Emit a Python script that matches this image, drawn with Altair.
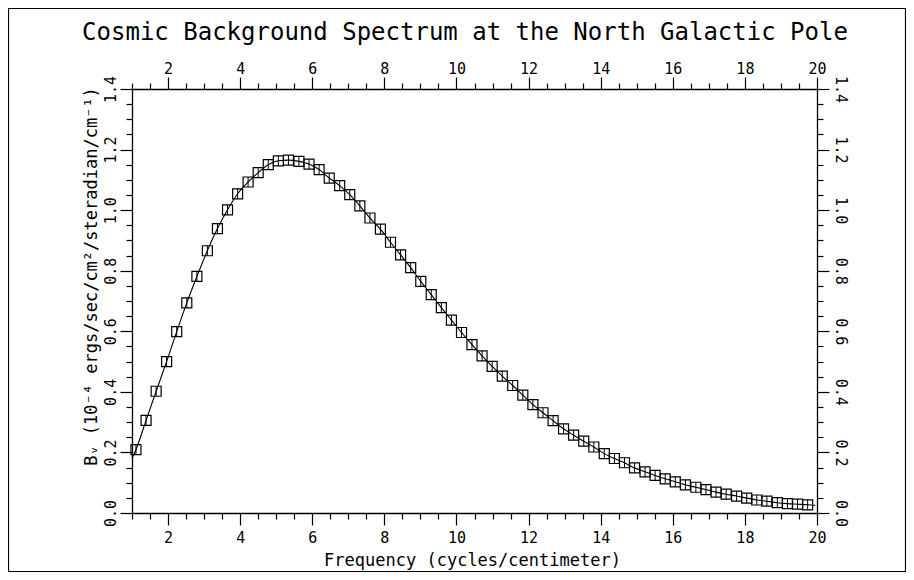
import altair as alt
import pandas as pd

# Frequency (cycles/cm) of each measured point
freq = [1.11, 1.39, 1.67, 1.96, 2.24, 2.52, 2.80, 3.09, 3.37, 3.65, 3.93, 4.22, 4.50,
        4.78, 5.06, 5.34, 5.63, 5.91, 6.19, 6.47, 6.76, 7.04, 7.32, 7.60, 7.89, 8.17,
        8.45, 8.73, 9.01, 9.30, 9.58, 9.86, 10.14, 10.43, 10.71, 10.99, 11.27, 11.56,
        11.84, 12.12, 12.40, 12.68, 12.97, 13.25, 13.53, 13.81, 14.10, 14.38, 14.66,
        14.94, 15.23, 15.51, 15.79, 16.07, 16.35, 16.64, 16.92, 17.20, 17.48, 17.77,
        18.05, 18.33, 18.61, 18.90, 19.18, 19.46, 19.74]
# Brightness (1e-4 ergs/sec/cm^2/steradian/cm^-1)
bright = [0.209, 0.306, 0.402, 0.500, 0.599, 0.694, 0.781, 0.866, 0.939, 1.001, 1.054,
          1.093, 1.124, 1.150, 1.163, 1.165, 1.161, 1.152, 1.134, 1.106, 1.081, 1.051,
          1.014, 0.974, 0.937, 0.894, 0.852, 0.810, 0.765, 0.721, 0.678, 0.637, 0.596,
          0.556, 0.519, 0.484, 0.452, 0.421, 0.389, 0.358, 0.331, 0.305, 0.278, 0.257,
          0.237, 0.218, 0.196, 0.180, 0.166, 0.149, 0.136, 0.124, 0.113, 0.103, 0.093,
          0.085, 0.077, 0.069, 0.062, 0.056, 0.049, 0.043, 0.039, 0.034, 0.031, 0.029,
          0.027]
# Fitted curve end points
curve_start = (1.0, 0.18)
curve_end = (19.95, 0.025)

title_text = ["Cosmic Background Spectrum at the North Galactic Pole"]
x_title = "Frequency (cycles/centimeter)"
y_title = "B\u1d65 (10\u207b\u2074 ergs/sec/cm\u00b2/steradian/cm\u207b\u00b9)"

x_ticks = [1 + 0.5 * i for i in range(39)]
y_ticks = [round(0.05 * i, 2) for i in range(29)]

pts = pd.DataFrame({"f": freq, "b": bright})
crv = pd.DataFrame({"f": [curve_start[0]] + freq + [curve_end[0]],
                    "b": [curve_start[1]] + bright + [curve_end[1]]})
frame_df = pd.DataFrame({"k": [0]})
title_df = pd.DataFrame({"t": title_text})

FONT = "DejaVu Sans Mono"
xscale = alt.Scale(domain=[1, 20], nice=False, zero=False)
yscale = alt.Scale(domain=[0, 1.4], nice=False, zero=True)

x_major = "abs(datum.value/2 - round(datum.value/2)) < 0.001"
y_major = "abs(datum.value*5 - round(datum.value*5)) < 0.001"

common = dict(labelFont=FONT, labelFontSize=15, labelColor="black", tickColor="black",
              tickWidth=1.2, domainColor="black", domainWidth=1.3, grid=False,
              titleFont=FONT, titleColor="black", titleFontWeight="normal",
              labelOverlap=False, labelFlush=False, labelBound=False)


def xaxis(orient, title, pad):
    kw = dict(common)
    if title:
        kw.update(title=title, titleFontSize=17, titleX=340, titleY=47,
                  titleBaseline="middle", titleAlign="center")
    else:
        kw.update(title=None)
    return alt.Axis(orient=orient, values=x_ticks,
                    labelExpr=f"{x_major} ? format(datum.value, 'd') : ''",
                    tickSize=alt.ExprRef(expr=f"{x_major} ? 12 : 6"),
                    labelPadding=pad, labelAngle=0, **kw)


def yaxis(orient, title, angle, pad):
    kw = dict(common)
    if title:
        kw.update(title=title, titleFontSize=17, titleX=-41, titleY=187,
                  titleAngle=270, titleBaseline="middle", titleAlign="center")
    else:
        kw.update(title=None)
    return alt.Axis(orient=orient, values=y_ticks,
                    labelExpr=f"{y_major} ? format(datum.value, '.1f') : ''",
                    tickSize=alt.ExprRef(expr=f"{y_major} ? 12 : 6"),
                    labelAngle=angle, labelAlign="center", labelBaseline="bottom",
                    labelPadding=pad, **kw)


line = alt.Chart(crv).mark_line(color="black", strokeWidth=1.1, interpolate="monotone").encode(
    x=alt.X("f:Q", scale=xscale, axis=xaxis("bottom", x_title, 5)),
    y=alt.Y("b:Q", scale=yscale, axis=yaxis("left", y_title, 270, 2)),
    order="f:Q",
)

squares = alt.Chart(pts).mark_point(shape="square", size=100, filled=False, color="black",
                                    strokeWidth=1.2, opacity=1).encode(
    x=alt.X("f:Q", scale=xscale, axis=xaxis("top", None, 1)),
    y=alt.Y("b:Q", scale=yscale, axis=yaxis("right", None, 90, 3)),
)

bars = alt.Chart(pts).mark_point(shape="M0,-1L0,1", size=100, filled=False, color="black",
                                 strokeWidth=1.0, opacity=1).encode(
    x=alt.X("f:Q", scale=xscale, axis=None),
    y=alt.Y("b:Q", scale=yscale, axis=None),
)

border = alt.Chart(frame_df).mark_rect(fillOpacity=0, stroke="black", strokeWidth=1.2).encode(
    x=alt.value(-123.5), x2=alt.value(773.5), y=alt.value(-80.5), y2=alt.value(482.5)
)

title = alt.Chart(title_df).mark_text(font=FONT, fontSize=24, color="black", align="center",
                                      baseline="middle").encode(
    text="t:N", x=alt.value(333), y=alt.value(-56)
)

chart = alt.layer(line, squares, bars, border, title).resolve_axis(
    x="independent", y="independent"
).properties(
    width=685, height=424,
    autosize=alt.AutoSizeParams(type="none"),
    padding={"left": 124, "top": 81, "right": 89, "bottom": 59},
).configure_view(stroke="black", strokeWidth=1.3).configure(background="white")

chart.save("out.html", embed_options={"renderer": "svg", "actions": False})
